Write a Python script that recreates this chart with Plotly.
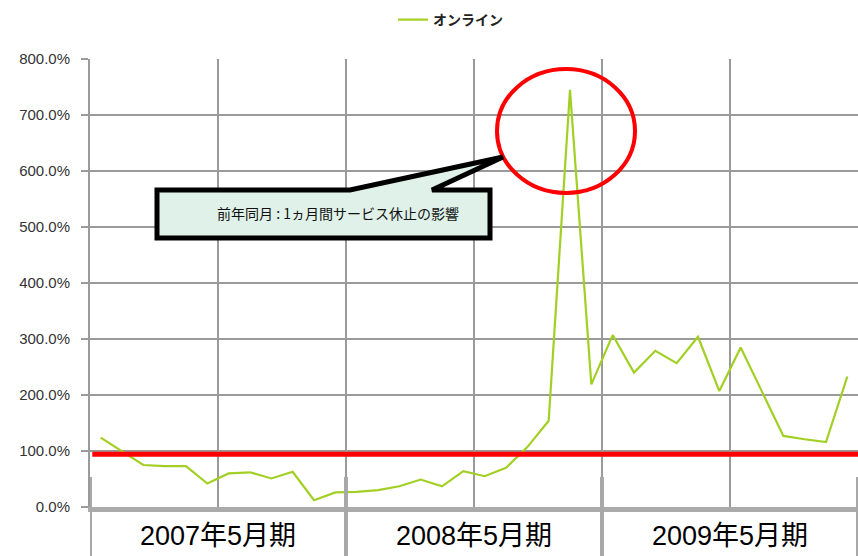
import plotly.graph_objects as go

# ---- data ----
months = [f"{y}年{m}月" for y, m in
          [(2006, m) for m in range(6, 13)] + [(2007, m) for m in range(1, 13)] +
          [(2008, m) for m in range(1, 13)] + [(2009, m) for m in range(1, 6)]]
online = [124, 100, 75, 73, 73, 42, 60, 62, 51, 63, 12, 26,
          27, 30, 37, 49, 37, 64, 55, 70, 107, 154, 745, 219,
          307, 240, 279, 257, 304, 207, 285, 206, 127, 121, 116, 233]
series_name = "オンライン"
period_labels = ["2007年5月期", "2008年5月期", "2009年5月期"]
period_centers = [5.5, 17.5, 29.5]
callout_text = "前年同月 : 1ヵ月間サービス休止の影響"
y_ticks = [0, 100, 200, 300, 400, 500, 600, 700, 800]
y_tick_text = [f"{v:.1f}%" for v in y_ticks]
ref_level = 94

# ---- geometry helpers (pixel -> axis) ----
W, H = 858, 556
L, R, T, B = 90, 0, 59, 49
pw, ph = W - L - R, H - T - B
n = len(months)

def ax_x(px):
    return (px - L) / pw * n - 0.5

def ax_y(py):
    return (H - B - py) / ph * 800

def paper_y(py):
    return (H - B - py) / ph

FONT = "Liberation Sans, Arial, Noto Sans CJK JP, sans-serif"
GRID = "#9a9a9a"

fig = go.Figure()
fig.add_trace(go.Scatter(
    x=months, y=online, mode="lines", name=series_name,
    line=dict(color="#a2cf24", width=2.2), showlegend=True))

shapes = []
# vertical gridlines every 6 months
for k in range(1, 6):
    shapes.append(dict(type="line", xref="x", yref="paper", x0=-0.5 + 6 * k, x1=-0.5 + 6 * k,
                       y0=0, y1=1, line=dict(color=GRID, width=2), layer="below"))
# category separators below axis
for k in range(0, 4):
    xx = -0.5 + 12 * k
    shapes.append(dict(type="line", xref="x", yref="paper", x0=xx, x1=xx,
                       y0=paper_y(477), y1=paper_y(560), line=dict(color="#a8a8a8", width=4)))
# red reference line
shapes.append(dict(type="line", xref="paper", yref="y", x0=0.003, x1=1, y0=ref_level, y1=ref_level,
                   line=dict(color="#ff0000", width=5)))
# red ellipse
shapes.append(dict(type="circle", xref="x", yref="y", x0=ax_x(497), x1=ax_x(635),
                   y0=ax_y(193), y1=ax_y(69), line=dict(color="#ff0000", width=4)))
# callout box with pointer
pts = [(157, 238), (157, 190), (350, 190), (503, 157), (432, 190), (490, 190), (490, 238)]
path = "M " + " L ".join(f"{ax_x(a):.4f},{ax_y(b):.4f}" for a, b in pts) + " Z"
shapes.append(dict(type="path", xref="x", yref="y", path=path,
                   fillcolor="#dff1e8", line=dict(color="#000000", width=5)))

annotations = [dict(x=ax_x(338), y=ax_y(213), xref="x", yref="y", text=callout_text,
                    showarrow=False, font=dict(family="Noto Sans CJK JP, sans-serif", size=14, color="#111"))]
for lab, c in zip(period_labels, period_centers):
    annotations.append(dict(x=c, y=paper_y(536), xref="x", yref="paper", text=lab, showarrow=False,
                            font=dict(family=FONT, size=27, color="#000"), yanchor="middle"))

fig.update_layout(
    width=W, height=H,
    margin=dict(l=L, r=R, t=T, b=B, pad=0, autoexpand=False),
    paper_bgcolor="white", plot_bgcolor="white",
    shapes=shapes, annotations=annotations,
    legend=dict(orientation="h", x=393 / W, xref="container", y=1 - 4 / H, yref="container",
                xanchor="left", yanchor="top",
                font=dict(family="Noto Sans CJK JP, sans-serif", size=14, color="#222",
                          weight="bold"),
                bgcolor="rgba(0,0,0,0)"),
    xaxis=dict(type="category", range=[-0.5, n - 0.5], showgrid=False, showticklabels=False,
               ticks="", showline=True, linecolor="#aaaaaa", linewidth=5, zeroline=False,
               automargin=False, fixedrange=True),
    yaxis=dict(range=[0, 800], tickvals=y_ticks, ticktext=y_tick_text,
               showgrid=True, gridcolor=GRID, gridwidth=2, zeroline=False,
               showline=True, linecolor=GRID, linewidth=2,
               ticks="outside", ticklen=7, tickwidth=2, tickcolor=GRID,
               ticklabelstandoff=8, automargin=False,
               tickfont=dict(family=FONT, size=15, color="#333")),
)

fig.write_html("out.html", config={"displayModeBar": False},
               post_script="document.body.style.margin='0';document.body.style.overflow='hidden';")
